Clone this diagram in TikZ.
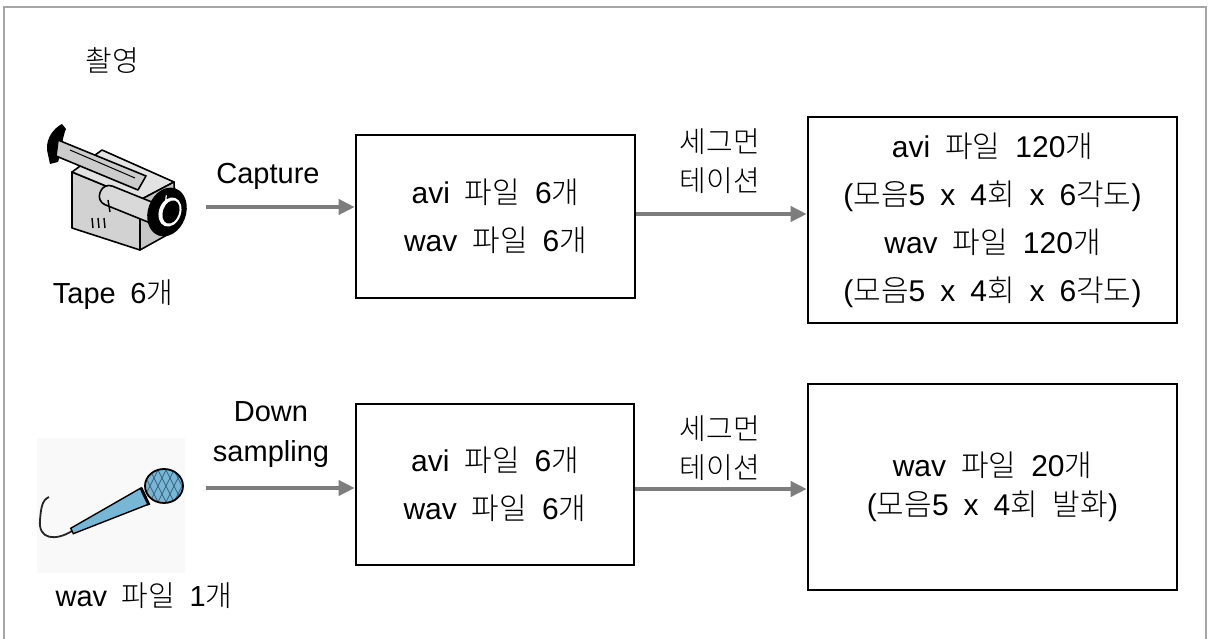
\documentclass[tikz,border=0pt]{standalone}
\usepackage{fontspec}
\setmainfont{Liberation Sans}
\IfFontExistsTF{Noto Sans CJK KR Light}
  {\newfontfamily\kr{Noto Sans CJK KR Light}}
  {\newfontfamily\kr{Noto Sans CJK KR}}
\usetikzlibrary{arrows.meta,calc}
\newcommand\hg[1]{{\kr #1}}
\newcommand\gp{\hspace{0.5em}}
\definecolor{flowgray}{RGB}{125,125,125}
\definecolor{micblue}{RGB}{120,182,214}
\definecolor{micdark}{RGB}{60,100,125}
\begin{document}
\begin{tikzpicture}[x=1pt,y=-1pt,
  box/.style={draw=black,line width=2.6pt,fill=white,align=center,inner sep=0pt,
    font=\fontsize{30}{48}\selectfont},
  flow/.style={draw=flowgray,line width=3.6pt,-{Triangle[length=16pt,width=15pt]}},
  lbl/.style={align=center,inner sep=0pt,font=\fontsize{29}{39}\selectfont},
  txt/.style={inner sep=0pt,font=\fontsize{29}{32}\selectfont}]
\useasboundingbox (0,0) rectangle (1208,639);
\fill[white] (0,0) rectangle (1208,639);
% frame
\draw[gray!70,line width=1.6pt] (4,639) -- (4,7) -- (1206,7) -- (1206,639);

% title
\node[txt] (title) at (112,61) {\hg{촬영}};

% ---------- video camera ----------
\begin{scope}[line join=round]
  % strap at the back
  \fill[black] (47,150) .. controls (46,138) and (54,128) .. (62,124)
    -- (66,129) .. controls (62,138) and (62,150) .. (58,162) -- (50,164) -- cycle;
  % body: side, top and front faces
  \filldraw[fill=gray!35,draw=black,line width=1.6pt] (72,172) -- (140,200) -- (140,250) -- (72,228) -- cycle;
  \filldraw[fill=gray!22,draw=black,line width=1.6pt] (72,172) -- (102,150) -- (174,182) -- (140,200) -- cycle;
  \filldraw[fill=gray!45,draw=black,line width=1.6pt] (140,200) -- (174,182) -- (176,230) -- (140,250) -- cycle;
  % carrying bar
  \filldraw[fill=gray!40,draw=black,line width=1.6pt] (58,140) -- (146,176) -- (138,190) -- (56,156) -- cycle;
  \draw[black,line width=1pt] (70,150) -- (135,178);
  % lens barrel
  \filldraw[fill=gray!30,draw=black,line width=1.6pt,rotate around={-22:(130,204)}]
    (98,194) [rounded corners=9pt] -- (165,194) -- (165,214) -- (98,214) -- cycle;
  \draw[black,line width=1.4pt] (108,200) -- (110,212);
  % lens
  \fill[black,rotate around={-20:(167,212)}] (167,212) ellipse [x radius=19,y radius=25];
  \fill[white,rotate around={-20:(170,212)}] (170,212) ellipse [x radius=11,y radius=15];
  \fill[black,rotate around={-20:(171,212)}] (171,212) ellipse [x radius=8,y radius=12];
  \draw[white,line width=1.2pt] (167,203) arc [start angle=150,end angle=200,radius=9];
  % vents
  \foreach \vx in {92,98,104} \draw[black,line width=1.4pt] (\vx,218) -- (\vx+1,228);
\end{scope}
\node[txt] (tape) at (113,295) {Tape\gp 6\hg{개}};

% ---------- microphone ----------
\fill[gray!5] (37,438) rectangle (185,573);
\draw[black!85,line width=1.8pt] (72,531) .. controls (56,541) and (38,540) .. (40,520)
  .. controls (41,508) and (42,500) .. (49,497);
\filldraw[fill=micblue,draw=black,line width=1.4pt]
  (70.7,528.3) -- (141.1,487.9) -- (148.9,504.1) -- (73.3,533.7) -- cycle;
\draw[black,line width=3pt] (141,488) -- (149,505);
\begin{scope}
  \clip (164,486) ellipse [x radius=19,y radius=17];
  \fill[micblue] (140,465) rectangle (190,510);
  \foreach \k in {-40,-32,...,40} {
    \draw[micdark,line width=0.8pt] (164+\k,466) -- (164+\k+20,506);
    \draw[micdark,line width=0.8pt] (164+\k,506) -- (164+\k+20,466);
  }
\end{scope}
\draw[black,line width=1.8pt] (164,486) ellipse [x radius=19,y radius=17];
\node[txt] (wavone) at (144,596) {wav\gp\hg{파일}\gp 1\hg{개}};

% ---------- processing boxes ----------
\node[box,minimum width=279pt,minimum height=163pt] (b1) at (495.5,216.5)
  {avi\gp\hg{파일}\gp 6\hg{개}\\wav\gp\hg{파일}\gp 6\hg{개}};
\node[box,minimum width=369pt,minimum height=206pt] (b2) at (992.5,220)
  {avi\gp\hg{파일}\gp 120\hg{개}\\(\hg{모음}5\gp x\gp 4\hg{회}\gp x\gp 6\hg{각도})\\
   wav\gp\hg{파일}\gp 120\hg{개}\\(\hg{모음}5\gp x\gp 4\hg{회}\gp x\gp 6\hg{각도})};
\node[box,minimum width=278pt,minimum height=161pt] (b3) at (495,484.5)
  {avi\gp\hg{파일}\gp 6\hg{개}\\wav\gp\hg{파일}\gp 6\hg{개}};
\node[box,minimum width=369pt,minimum height=206pt,font=\fontsize{30}{39}\selectfont] (b4) at (992.5,487)
  {wav\gp\hg{파일}\gp 20\hg{개}\\(\hg{모음}5\gp x\gp 4\hg{회}\gp\hg{발화})};

% ---------- arrows ----------
\coordinate (capS) at (206,207);
\coordinate (dsS) at (206,488);
\coordinate (segA) at (0,214);
\coordinate (segB) at (0,489);
\draw[flow] (capS) -- (capS -| b1.west);
\draw[flow] (dsS) -- (dsS -| b3.west);
\draw[flow] (b1.east |- segA) -- (b2.west |- segA);
\draw[flow] (b3.east |- segB) -- (b4.west |- segB);

% arrow labels
\node[txt] (capL) at (268,176) {Capture};
\node[lbl,font=\fontsize{29}{40}\selectfont] (dsL) at (271,435) {Down\\sampling};
\node[lbl,font=\fontsize{29}{39}\selectfont\kr] (segL1) at (720,161) {세그먼\\테이션};
\node[lbl,font=\fontsize{29}{39}\selectfont\kr] (segL2) at (720,448) {세그먼\\테이션};
\end{tikzpicture}
\end{document}
